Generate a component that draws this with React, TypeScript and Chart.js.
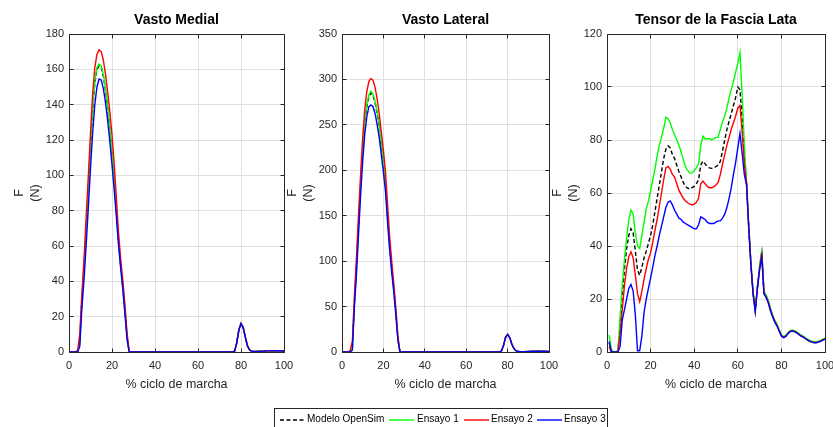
import React, { useEffect, useRef } from "react";
import { Chart, registerables } from "chart.js";

Chart.register(...registerables);

const FONT = "'Liberation Sans', Arial, Helvetica, sans-serif";
const TEXT = "#262626";
const GRID = "#e0e0e0";

const seriesNames = ["Modelo OpenSim", "Ensayo 1", "Ensayo 2", "Ensayo 3"];
const seriesColors = ["#000000", "#00ff00", "#ff0000", "#0000ff"];
const xTitle = "% ciclo de marcha";
const yTitle = ["F", "(N)"];

// ---- Vasto Medial ----
const vmPct = [0,1,2,3,4,5,6,7,8,9,10,11,12,13,14,15,16,17,18,19,20,21,22,23,24,25,26,27,28,40,60,76,77,78,79,80,81,82,83,84,85,86,88,90,95,100];
const vmModelo = [0,0,0,0,0,5,30,47,69,92,116,137,152,160,162,161,156,148,138,126,112,97,81,63,49,37,23,8.5,0,0,0,0,0.5,5,12.5,16,14,8.5,3.5,1.2,0.5,0.3,0.3,0.5,0.8,0.6];
const vmEnsayo1 = [0,0,0,0,0,5,30,48,70,93,117,138,153,161,163,162,157,149,139,127,113,98,82,64,50,38,24,9,0,0,0,0,0.5,5.2,12.7,16.2,14.1,8.6,3.6,1.2,0.5,0.3,0.3,0.5,0.8,0.6];
const vmEnsayo2 = [0,0,0,0,1,10,33,53,77,100,124,146,161,168.5,171,170,165,157,147,136,123,107,88,68,53,41,27,11,0,0,0,0,0.5,5.3,12.8,16.3,14.2,8.7,3.6,1.2,0.5,0.3,0.3,0.5,0.8,0.6];
const vmEnsayo3 = [0,0,0,0,0,3,25,41,61,82,104,124,140,150,154.5,154,149,141,131,119,106,92,77,61,48,36,22,7,0,0,0,0,0.4,4.8,12.3,16,13.8,8.3,3.4,1.1,0.5,0.3,0.3,0.5,0.8,0.6];

// ---- Vasto Lateral ----
const vlPct = [0,1,2,3,4,5,6,7,8,9,10,11,12,13,14,15,16,17,18,19,20,21,22,23,24,25,26,27,28,40,60,76,77,78,79,80,81,82,83,84,85,86,88,90,95,100];
const vlModelo = [0,0,0,0,0,4,54,94,140,184,222,252,270,281,285,282,274,262,247,227,208,186,150,118,92,70,44,14,0,0,0,0,1,7,16,19.3,16,9,4,1.5,0.5,0.2,0.2,0.5,1,0.5];
const vlEnsayo1 = [0,0,0,0,0,4,55,95,142,186,224,254,272,283,287,284,276,264,249,229,210,188,152,120,94,71,45,15,0,0,0,0,1,7,16,19.5,16,9,4,1.5,0.5,0.2,0.2,0.5,1,0.5];
const vlEnsayo2 = [0,0,0,0,2,12,62,105,152,196,236,267,287,298,301,299,291,278,262,242,222,199,163,128,100,76,49,18,0,0,0,0,1,7.2,16.3,19.6,16.2,9.1,4,1.5,0.5,0.2,0.2,0.5,1,0.5];
const vlEnsayo3 = [0,0,0,0,0,2,50,86,130,173,210,240,259,270,272,270,262,250,236,217,198,177,143,113,88,66,41,13,0,0,0,0,0.9,6.8,15.8,19.3,15.8,8.8,3.9,1.4,0.5,0.2,0.2,0.5,1,0.5];

// ---- Tensor de la Fascia Lata ----
const tflPct = [
  1,2,3,4,5,6,7,8,9,10,
  11,12,13,14,15,16,17,18,19,20,
  21,22,23,24,25,26,27,28,29,30,
  31,32,33,34,35,36,37,38,39,40,
  41,42,43,44,45,46,47,48,49,50,
  51,52,53,54,55,56,57,58,59,60,
  61,62,63,64,65,66,67,68,69,70,
  71,72,73,74,75,76,77,78,79,80,
  81,82,83,84,85,86,87,88,89,90,
  91,92,93,94,95,96,97,98,99,100,
];
const tflModelo = [
  3.5,0.5,0,0,0.3,9,21,31,39,44,
  46.5,45,38,31,29,32,35.5,38,41,44,
  48,53,58,63,68,73,76.5,77.8,77,74.5,
  73,70.5,68,66,64,62.5,61.8,61.5,62,62.5,
  63.5,65,70.5,72,71,70,69.5,69.3,69.5,70,
  70.5,72,76,80,84,87,90,93,96,100,
  99,88,73,64,47.8,33.5,22.5,15.8,24.5,32,
  37.5,22.5,21,19,16,13.7,11.7,10.2,8.2,6.3,
  5.6,6.1,7.1,7.9,8.1,7.9,7.4,6.8,6.2,5.8,
  5.2,4.7,4.2,3.9,3.7,3.7,3.9,4.2,4.7,5,
];
const tflEnsayo1 = [
  6.5,1,0,0,0.5,13,25,35,43,50,
  53.5,52,45,40,39,44,49,54,57,61,
  65,69,74,78,81,84.5,88.5,88,86.5,84,
  82,80,78,75.5,72.5,70,68.5,67.5,67.5,68.5,
  69.5,71,78,81.5,80.5,80.5,80.5,80,80.5,81,
  81,84,87,89,92,96,99,102,105.5,109,
  113,97,78,64.5,48,34,23,16,25,32.5,
  38.5,23,21.5,19.5,16.5,14,12,10.5,8.5,6.5,
  5.8,6.3,7.3,8.1,8.3,8.1,7.6,7,6.4,6,
  5.4,4.9,4.4,4.1,3.9,3.9,4.1,4.4,4.9,5.2,
];
const tflEnsayo2 = [
  2,0,0,0,0.2,7,16,25,31.5,36,
  37.8,35.5,29,22,19,23,27.5,31.5,35,37.5,
  41.5,46,50,55,60,65,69.5,70,69,67,
  66,63.5,61,59.5,58,57,56.3,55.8,55.5,55.8,
  56.5,58,63.5,64.5,63.5,62.5,62,62,62.3,63,
  64,67,71,74.5,78,81,84,86.5,89,92,
  93,83,71,64,47.5,33.2,22.2,15.6,24.2,31.5,
  37.5,22.3,20.8,18.8,15.8,13.5,11.5,10,8,6.1,
  5.5,6,7,7.8,8,7.8,7.3,6.7,6.1,5.7,
  5.1,4.6,4.1,3.8,3.6,3.6,3.8,4.1,4.6,4.9,
];
const tflEnsayo3 = [
  4,0,0,0,0,2,12,16,20,24,
  25.5,23,14,0.5,0.5,6,15,20,24,28,
  32,36.5,40,44,47.5,51,54.5,56.5,57,55.5,
  53.5,52,50.5,50,49,48.5,48,47.5,47,46.5,
  46.5,48,51,50.5,50,49,48.5,48.5,48.5,49,
  49.5,49.5,50.5,52,54.5,58,62,67,71.5,77,
  82.5,75,67,63,47,33,22,15.2,24,31,
  36,22,20.5,18.5,15.5,13.2,11.2,9.8,7.8,6,
  5.4,5.9,6.9,7.7,7.9,7.7,7.2,6.6,6,5.6,
  5,4.5,4,3.7,3.5,3.5,3.7,4,4.5,4.8,
];

const panels = [
  { title: "Vasto Medial", x: vmPct, series: [vmModelo, vmEnsayo1, vmEnsayo2, vmEnsayo3], yMax: 180, yStep: 20, left: 69, right: 284 },
  { title: "Vasto Lateral", x: vlPct, series: [vlModelo, vlEnsayo1, vlEnsayo2, vlEnsayo3], yMax: 350, yStep: 50, left: 342, right: 549 },
  { title: "Tensor de la Fascia Lata", x: tflPct, series: [tflModelo, tflEnsayo1, tflEnsayo2, tflEnsayo3], yMax: 120, yStep: 20, left: 607, right: 825 },
];

const AREA_TOP = 34;
const AREA_BOTTOM = 352;
const Y_AXIS_W = 65;
const X_AXIS_H = 45;
const PAD_R = 24;

const align = (p: number) => Math.round(p - 0.5) + 0.5;

const framePlugin = {
  id: "frame",
  afterDraw(chart: any, _args: any, opts: any) {
    const { ctx, chartArea: a } = chart;
    const xs = chart.scales.x;
    const ys = chart.scales.y;
    const L = align(a.left);
    const R = align(a.right);
    const T = align(a.top);
    const B = align(a.bottom);
    ctx.save();
    ctx.strokeStyle = TEXT;
    ctx.lineWidth = 1;
    ctx.beginPath();
    ctx.rect(L, T, R - L, B - T);
    ctx.stroke();
    const tl = 4;
    ctx.beginPath();
    for (const t of ys.ticks) {
      const y = align(ys.getPixelForValue(t.value));
      ctx.moveTo(L, y); ctx.lineTo(L + tl, y);
      ctx.moveTo(R, y); ctx.lineTo(R - tl, y);
    }
    for (const t of xs.ticks) {
      const x = align(xs.getPixelForValue(t.value));
      ctx.moveTo(x, B); ctx.lineTo(x, B - tl);
      ctx.moveTo(x, T); ctx.lineTo(x, T + tl);
    }
    ctx.stroke();

    const cx = (a.left + a.right) / 2;
    const cy = (a.top + a.bottom) / 2;
    ctx.fillStyle = "#000";
    ctx.textAlign = "center";
    ctx.textBaseline = "middle";
    ctx.font = `bold 14px ${FONT}`;
    ctx.fillText(opts.title, cx, 20.5);

    ctx.fillStyle = TEXT;
    ctx.font = `12.5px ${FONT}`;
    ctx.fillText(xTitle, cx, a.bottom + 33);

    ctx.save();
    ctx.translate(a.left - 49, cy);
    ctx.rotate(-Math.PI / 2);
    ctx.fillText(yTitle[0], 0, 0);
    ctx.restore();
    ctx.save();
    ctx.translate(a.left - 33, cy);
    ctx.rotate(-Math.PI / 2);
    ctx.fillText(yTitle[1], 0, 0);
    ctx.restore();
    ctx.restore();
  },
};

function Panel({ p }: { p: (typeof panels)[number] }) {
  const ref = useRef<HTMLCanvasElement | null>(null);
  const boxLeft = p.left - Y_AXIS_W;
  const boxW = p.right + PAD_R - boxLeft;
  const boxH = AREA_BOTTOM + X_AXIS_H;
  useEffect(() => {
    if (!ref.current) return;
    const orders = [3, 2, 1, 0];
    const chart = new Chart(ref.current, {
      type: "line",
      data: {
        datasets: p.series.map((vals, i) => ({
          label: seriesNames[i],
          data: p.x.map((x, j) => ({ x, y: vals[j] })),
          borderColor: seriesColors[i],
          backgroundColor: seriesColors[i],
          borderWidth: 1.4,
          borderDash: i === 0 ? [4, 2.5] : [],
          pointRadius: 0,
          fill: false,
          tension: 0,
          order: orders[i],
        })),
      },
      options: {
        animation: false,
        responsive: false,
        maintainAspectRatio: false,
        events: [],
        layout: { padding: { top: AREA_TOP, right: PAD_R, bottom: 0, left: 0 } },
        plugins: {
          legend: { display: false },
          title: { display: false },
          tooltip: { enabled: false },
          frame: { title: p.title },
        } as any,
        scales: {
          x: {
            type: "linear",
            min: 0,
            max: 100,
            grid: { color: GRID, drawTicks: false, lineWidth: 1 },
            border: { display: false },
            ticks: {
              stepSize: 20,
              padding: 7,
              maxRotation: 0,
              color: TEXT,
              font: { family: FONT, size: 11 },
            },
            afterFit: (s: any) => { s.height = X_AXIS_H; },
          },
          y: {
            type: "linear",
            min: 0,
            max: p.yMax,
            grid: { color: GRID, drawTicks: false, lineWidth: 1 },
            border: { display: false },
            ticks: {
              stepSize: p.yStep,
              padding: 5,
              color: TEXT,
              font: { family: FONT, size: 11 },
            },
            afterFit: (s: any) => { s.width = Y_AXIS_W; },
          },
        },
      },
      plugins: [framePlugin],
    });
    return () => chart.destroy();
  }, []);
  return (
    <canvas
      ref={ref}
      width={boxW}
      height={boxH}
      style={{ position: "absolute", left: boxLeft, top: 0, width: boxW, height: boxH }}
    />
  );
}

function LegendLine({ color, dashed }: { color: string; dashed: boolean }) {
  return (
    <svg width={25} height={4} style={{ display: "block" }}>
      <line x1={0} y1={2} x2={25} y2={2} stroke={color} strokeWidth={1.4} strokeDasharray={dashed ? "4 2.5" : undefined} />
    </svg>
  );
}

const legendLineLefts = [5, 114, 189, 262];
const legendTextLefts = [32, 142, 216, 289];

export default function App() {
  return (
    <div style={{ position: "fixed", left: 0, top: 0, width: 833, height: 427, overflow: "hidden", background: "#fff" }}>
      {panels.map((p) => (
        <Panel key={p.title} p={p} />
      ))}
      <div
        style={{
          position: "absolute",
          left: 274,
          top: 408,
          width: 334,
          height: 20,
          boxSizing: "border-box",
          border: `1px solid ${TEXT}`,
          background: "#fff",
          fontFamily: FONT,
          fontSize: 10,
          color: "#000",
        }}
      >
        {seriesNames.map((n, i) => (
          <React.Fragment key={n}>
            <div style={{ position: "absolute", left: legendLineLefts[i], top: 9 }}>
              <LegendLine color={seriesColors[i]} dashed={i === 0} />
            </div>
            <div style={{ position: "absolute", left: legendTextLefts[i], top: 4, lineHeight: "12px", whiteSpace: "nowrap" }}>{n}</div>
          </React.Fragment>
        ))}
      </div>
    </div>
  );
}
